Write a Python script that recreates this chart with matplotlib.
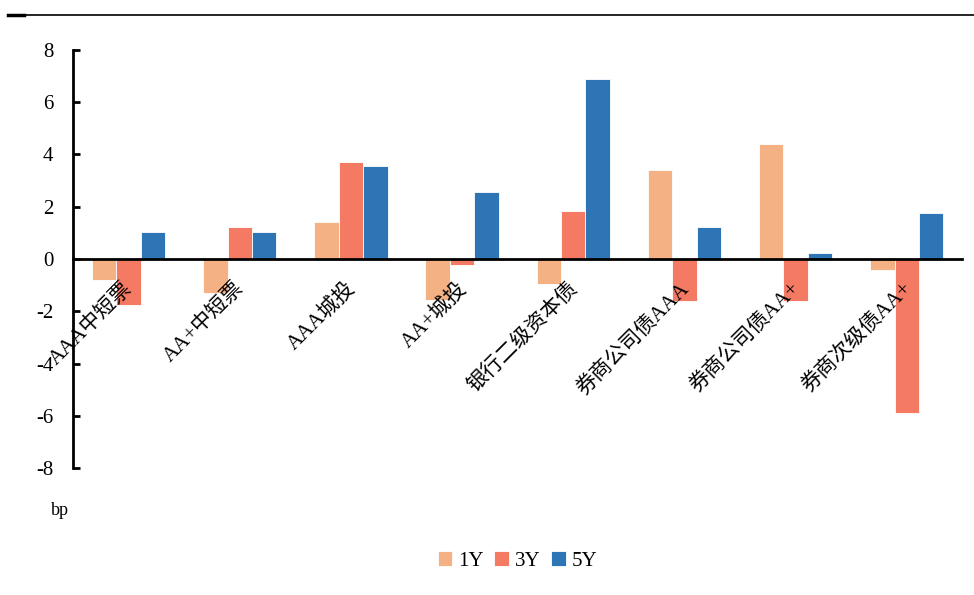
import matplotlib.pyplot as plt
import numpy as np
from matplotlib.lines import Line2D

plt.rcParams['font.family'] = ['Liberation Serif', 'Noto Sans CJK SC']
plt.rcParams['axes.unicode_minus'] = False

categories = ['AAA中短票', 'AA+中短票', 'AAA城投', 'AA+城投', '银行二级资本债',
              '券商公司债AAA', '券商公司债AA+', '券商次级债AA+']
y1 = [-0.82, -1.32, 1.42, -1.57, -0.96, 3.41, 4.40, -0.44]
y3 = [-1.76, 1.22, 3.72, -0.24, 1.84, -1.60, -1.60, -5.88]
y5 = [1.04, 1.03, 3.57, 2.57, 6.90, 1.23, 0.23, 1.76]
series_names = ['1Y', '3Y', '5Y']
colors = ['#F4B183', '#F47A64', '#2E75B6']

fig = plt.figure(figsize=(9.74, 5.95), dpi=100)
ax = fig.add_axes([0.075, 0.2134, 0.913, 0.7026])

x = np.arange(len(categories))
w = 0.22
for k, (vals, name, c) in enumerate(zip([y1, y3, y5], series_names, colors)):
    ax.bar(x + (k - 1) * w, vals, w, color=c, label=name, edgecolor='white', linewidth=0.6)

ax.set_xlim(-0.5, len(categories) - 0.5)
ax.set_ylim(-8, 8)
ax.set_yticks(np.arange(-8, 9, 2))
ax.tick_params(axis='y', direction='in', length=5, width=2, pad=14, labelsize=15)
ax.set_xticks([])
for s in ['top', 'right']:
    ax.spines[s].set_visible(False)
ax.spines['left'].set_linewidth(2)
ax.spines['bottom'].set_position(('data', 0))
ax.spines['bottom'].set_linewidth(2)

for i, lab in enumerate(categories):
    ax.text(i - 0.05, -0.75, lab, rotation=45, rotation_mode='anchor',
            ha='right', va='top', fontsize=15)

fig.text(0.052, 0.135, 'bp', fontsize=13)

ax.legend(loc='center', bbox_to_anchor=(0.5, -0.223), ncol=3, frameon=False,
          fontsize=15, handlelength=0.7, handleheight=0.7, handletextpad=0.3,
          columnspacing=0.5)

fig.add_artist(Line2D([0.008, 1.0], [0.975, 0.975], color='black', lw=1.2))
fig.add_artist(Line2D([0.008, 0.025], [0.975, 0.975], color='black', lw=2.5))

plt.savefig('out.png', dpi=100)
